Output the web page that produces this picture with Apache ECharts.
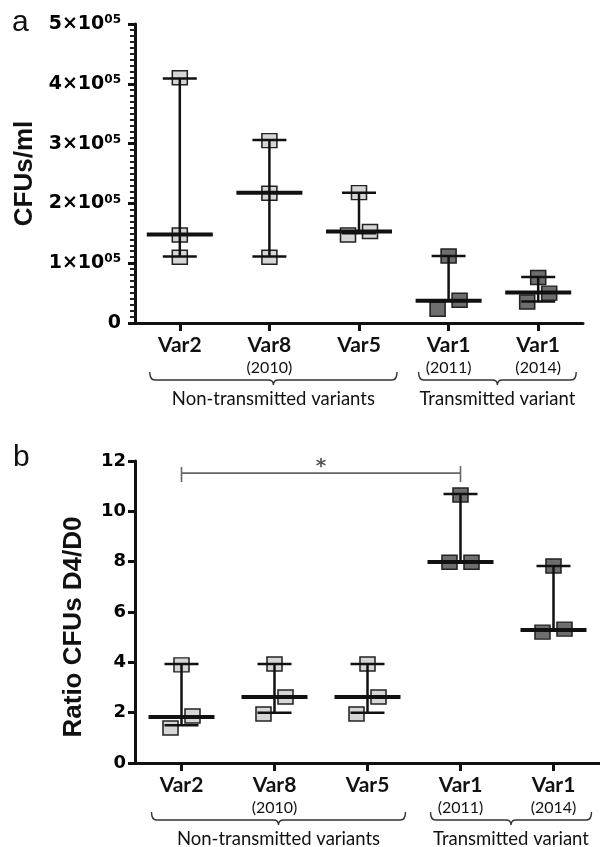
<!DOCTYPE html>
<html><head><meta charset="utf-8">
<script src="https://cdn.jsdelivr.net/npm/echarts@6/dist/echarts.min.js"></script>
<style>html,body{margin:0;padding:0;background:#fff}#c{width:600px;height:847px}</style>
</head><body><div id="c"></div>
<script>
// ---------- data ----------
const categories = ['Var2', 'Var8', 'Var5', 'Var1', 'Var1'];
const years = ['', '(2010)', '', '(2011)', '(2014)'];
const transmitted = [false, false, false, true, true];
const groupLabels = ['Non-transmitted variants', 'Transmitted variant'];
const groupFirst = [0, 3];
const groupLast = [2, 4];

// panel a: CFUs/ml (three replicates per variant)
const cfuPoints = [
  [410000, 147000, 110000],
  [305000, 217000, 110000],
  [218000, 147000, 153000],
  [112000, 23000, 38000],
  [76000, 35000, 50000]
];
const cfuMedian = [148000, 218000, 153000, 37000, 51000];
const cfuLow = [111000, 111000, 150000, 37000, 36000];
const cfuHigh = [409000, 306000, 218000, 112000, 77000];
const cfuTicks = [0, 100000, 200000, 300000, 400000, 500000];
const cfuTickMain = ['0', '1×10', '2×10', '3×10', '4×10', '5×10'];
const cfuTickSup = ['', '05', '05', '05', '05', '05'];
const cfuSide = [[0, 0, 0], [0, 0, 0], [0, -1, 1], [0, -1, 1], [0, -1, 1]];

// panel b: ratio CFUs D4/D0
const ratioPoints = [
  [3.90, 1.39, 1.87],
  [3.93, 1.95, 2.62],
  [3.93, 1.95, 2.62],
  [10.65, 7.98, 7.98],
  [7.83, 5.20, 5.32]
];
const ratioMedian = [1.83, 2.62, 2.62, 7.99, 5.28];
const ratioLow = [1.50, 2.00, 2.00, 7.99, 5.28];
const ratioHigh = [3.93, 3.93, 3.93, 10.69, 7.83];
const ratioTicks = [0, 2, 4, 6, 8, 10, 12];
const ratioSide = [[0, -1, 1], [0, -1, 1], [0, -1, 1], [0, -1, 1], [0, -1, 1]];
const sigFrom = 0, sigTo = 3, sigLevel = 11.52, sigMark = '*';

// ---------- styling ----------
const INK = '#111';
const LIGHT = '#d6d6d6';
const DARK = '#6e6e6e';
const JIT = 11;

function scatterSeries(gi, points, side, dark) {
  const data = [];
  points.forEach((arr, i) => {
    if (transmitted[i] !== dark) return;
    arr.forEach((v, j) => {
      data.push({ value: [i, v], symbolOffset: [side[i][j] * JIT, 0] });
    });
  });
  return {
    type: 'scatter', xAxisIndex: gi, yAxisIndex: gi, z: 3,
    symbol: 'rect', symbolSize: [15, 14],
    itemStyle: { color: dark ? DARK : LIGHT, borderColor: '#222', borderWidth: 1.5, opacity: 1 },
    data: data, silent: true
  };
}

function whiskerSeries(gi, med, low, high) {
  return {
    type: 'custom', xAxisIndex: gi, yAxisIndex: gi, z: 5, silent: true,
    data: med.map((m, i) => [i, m, low[i], high[i]]),
    renderItem(params, api) {
      const i = api.value(0);
      const pm = api.coord([i, api.value(1)]);
      const pl = api.coord([i, api.value(2)]);
      const ph = api.coord([i, api.value(3)]);
      const x = pm[0];
      const st = { stroke: INK, lineWidth: 2.5 };
      return {
        type: 'group', children: [
          { type: 'line', shape: { x1: x, y1: pl[1], x2: x, y2: ph[1] }, style: st },
          { type: 'line', shape: { x1: x - 17, y1: ph[1], x2: x + 17, y2: ph[1] }, style: st },
          { type: 'line', shape: { x1: x - 17, y1: pl[1], x2: x + 17, y2: pl[1] }, style: st },
          { type: 'line', shape: { x1: x - 33, y1: pm[1], x2: x + 33, y2: pm[1] }, style: { stroke: INK, lineWidth: 4 } }
        ]
      };
    }
  };
}

function braceSeries(gi) {
  return {
    type: 'custom', xAxisIndex: gi, yAxisIndex: gi, clip: false, silent: true, z: 10,
    data: groupLabels.map((g, k) => [groupFirst[k], 0, groupLast[k], k]),
    renderItem(params, api) {
      const a = api.coord([api.value(0), 0]);
      const b = api.coord([api.value(2), 0]);
      const k = api.value(3);
      const x1 = a[0] - 30, x2 = b[0] + 38, xc = (x1 + x2) / 2;
      const y0 = a[1];
      const yt = y0 + 49, yh = y0 + 57, yp = y0 + 62;
      const d = `M${x1},${yt} Q${x1},${yh} ${x1 + 5},${yh} L${xc - 5},${yh} Q${xc},${yh} ${xc},${yp} Q${xc},${yh} ${xc + 5},${yh} L${x2 - 5},${yh} Q${x2},${yh} ${x2},${yt}`;
      return {
        type: 'group', children: [
          { type: 'path', shape: { pathData: d }, style: { stroke: '#333', lineWidth: 1.4, fill: null } },
          { type: 'text', style: { text: groupLabels[k], x: xc, y: y0 + 76, align: 'center', verticalAlign: 'middle', fontFamily: 'Lato', fontSize: 18.5, fill: '#111' } }
        ]
      };
    }
  };
}

function sigSeries(gi) {
  return {
    type: 'custom', xAxisIndex: gi, yAxisIndex: gi, clip: false, silent: true, z: 6,
    data: [[sigFrom, sigLevel, sigTo]],
    renderItem(params, api) {
      const p1 = api.coord([api.value(0), api.value(1)]);
      const p2 = api.coord([api.value(2), api.value(1)]);
      const st = { stroke: '#666', lineWidth: 1.6 };
      const y = p1[1];
      return {
        type: 'group', children: [
          { type: 'line', shape: { x1: p1[0], y1: y, x2: p2[0], y2: y }, style: st },
          { type: 'line', shape: { x1: p1[0], y1: y - 6, x2: p1[0], y2: y + 9 }, style: st },
          { type: 'line', shape: { x1: p2[0], y1: y - 7, x2: p2[0], y2: y + 9 }, style: st },
          { type: 'text', style: { text: sigMark, x: (p1[0] + p2[0]) / 2, y: y - 6, align: 'center', verticalAlign: 'middle', fontFamily: 'DejaVu Sans', fontWeight: 'bold', fontSize: 20, fill: '#555' } }
        ]
      };
    }
  };
}

const xLabel = {
  interval: 0, margin: 10, color: INK,
  formatter: (v, i) => years[i] ? `{b|${categories[i]}}\n{s|${years[i]}}` : `{b|${categories[i]}}`,
  rich: {
    b: { fontFamily: 'Lato', fontWeight: 'bold', fontSize: 21, lineHeight: 24, color: INK },
    s: { fontFamily: 'Lato', fontSize: 16, lineHeight: 22, color: '#111' }
  }
};
const axLine = { show: true, lineStyle: { color: INK, width: 3 } };
const axTick = { show: true, length: 7, lineStyle: { color: INK, width: 3 } };

const option = {
  animation: false,
  backgroundColor: '#fff',
  grid: [
    { left: 135, top: 24, width: 448, height: 299 },
    { left: 135, top: 461, width: 465, height: 302 }
  ],
  xAxis: [
    { gridIndex: 0, type: 'category', data: categories, boundaryGap: true, axisLine: axLine,
      axisTick: { show: true, alignWithLabel: true, length: 8, lineStyle: { color: INK, width: 3 } }, axisLabel: xLabel, splitLine: { show: false } },
    { gridIndex: 1, type: 'category', data: categories, boundaryGap: true, axisLine: axLine,
      axisTick: { show: true, alignWithLabel: true, length: 8, lineStyle: { color: INK, width: 3 } }, axisLabel: xLabel, splitLine: { show: false } }
  ],
  yAxis: [
    { gridIndex: 0, type: 'value', min: 0, max: 500000, interval: 100000, z: 4,
      axisLine: axLine, axisTick: axTick, splitLine: { show: false },
      minorTick: { show: true, splitNumber: 10, length: 5, lineStyle: { color: '#222', width: 2 } },
      minorSplitLine: { show: false },
      name: 'CFUs/ml', nameLocation: 'middle', nameRotate: 90, nameGap: 88,
      nameTextStyle: { fontFamily: 'Liberation Sans', fontWeight: 'bold', fontSize: 26, color: INK },
      axisLabel: {
        margin: 14, color: INK,
        formatter: (v) => {
          const k = cfuTicks.indexOf(v);
          if (k < 0) return '';
          return cfuTickSup[k] ? `{m|${cfuTickMain[k]}}{s|${cfuTickSup[k]}}` : `{m|${cfuTickMain[k]}}`;
        },
        rich: {
          m: { fontFamily: 'DejaVu Sans', fontWeight: 'bold', fontSize: 19, lineHeight: 20, color: '#000' },
          s: { fontFamily: 'DejaVu Sans', fontWeight: 'bold', fontSize: 12, lineHeight: 12, verticalAlign: 'top', color: '#000' }
        }
      }
    },
    { gridIndex: 1, type: 'value', min: 0, max: 12, interval: 2,
      axisLine: axLine, axisTick: axTick, splitLine: { show: false },
      name: 'Ratio CFUs D4/D0', nameLocation: 'middle', nameRotate: 90, nameGap: 48,
      nameTextStyle: { fontFamily: 'Liberation Sans', fontWeight: 'bold', fontSize: 26, color: INK, padding: [0, 30, 0, 0] },
      axisLabel: {
        margin: 9, color: '#000', fontFamily: 'DejaVu Sans', fontWeight: 'bold', fontSize: 18,
        formatter: (v) => ratioTicks.indexOf(v) >= 0 ? String(v) : ''
      }
    }
  ],
  graphic: [
    { type: 'text', left: 12, top: 8, style: { text: 'a', fontFamily: 'Liberation Sans', fontSize: 30, fill: INK } },
    { type: 'text', left: 13, top: 443, style: { text: 'b', fontFamily: 'Liberation Sans', fontSize: 30, fill: INK } }
  ],
  series: [
    scatterSeries(0, cfuPoints, cfuSide, false),
    scatterSeries(0, cfuPoints, cfuSide, true),
    whiskerSeries(0, cfuMedian, cfuLow, cfuHigh),
    braceSeries(0),
    scatterSeries(1, ratioPoints, ratioSide, false),
    scatterSeries(1, ratioPoints, ratioSide, true),
    whiskerSeries(1, ratioMedian, ratioLow, ratioHigh),
    sigSeries(1),
    braceSeries(1)
  ]
};

const chart = echarts.init(document.getElementById('c'), null, { renderer: 'canvas' });
chart.setOption(option);
</script>
</body></html>
